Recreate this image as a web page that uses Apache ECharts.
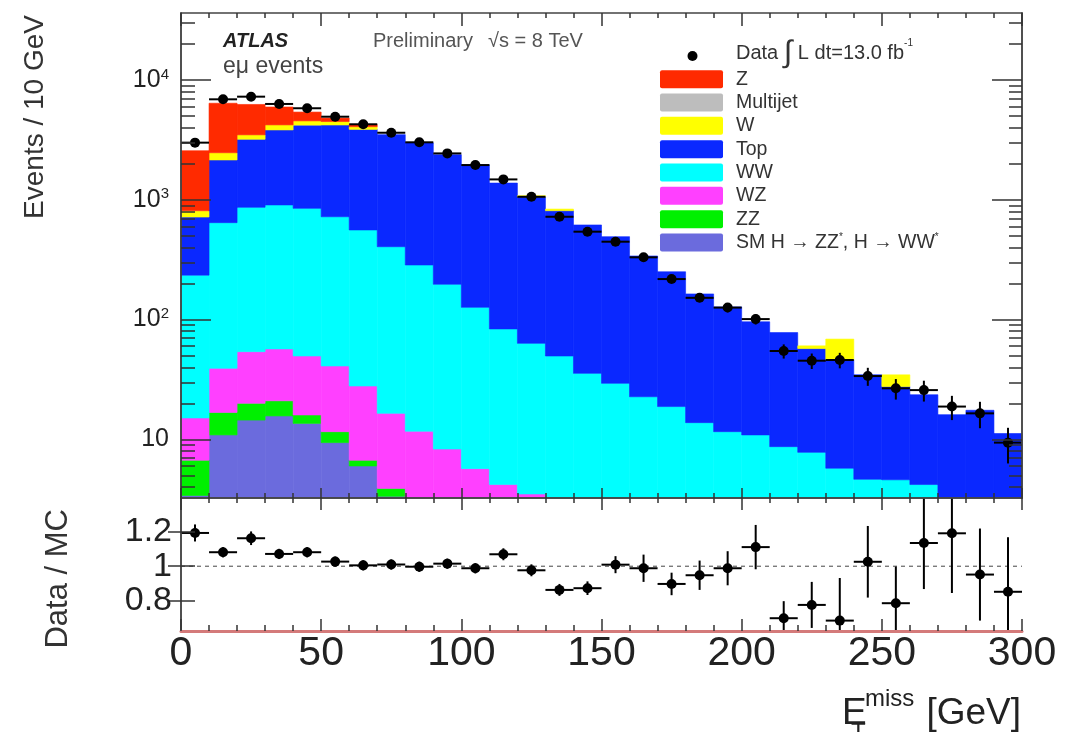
<!DOCTYPE html>
<html>
<head>
<meta charset="utf-8">
<script src="https://cdn.jsdelivr.net/npm/echarts@6/dist/echarts.min.js"></script>
<style>
html,body{margin:0;padding:0;background:#ffffff;}
#chart{width:1072px;height:732px;}
</style>
</head>
<body>
<div id="chart"></div>
<script>
// ---------- data ----------
const binEdges = [0,10,20,30,40,50,60,70,80,90,100,110,120,130,140,150,160,170,180,190,200,210,220,230,240,250,260,270,280,290,300];
const xTickValues = [0,50,100,150,200,250,300];
const yMajorTicks = [10,100,1000,10000];
const yMinorTicks = [4,5,6,7,8,9,20,30,40,50,60,70,80,90,200,300,400,500,600,700,800,900,2000,3000,4000,5000,6000,7000,8000,9000,20000,30000];
const ratioTicks = [0.8,1,1.2];

const higgs    = [3.4,10.9,14.5,15.7,13.6,9.4,6.0,3.35,1.5,1.0,0.7,0.5,0.4,0.3,0.2,0.2,0.1,0.1,0.1,0.1,0.1,0.05,0.05,0.05,0.05,0.05,0.05,0.05,0.05,0.05];
const zzVals   = [3.3,5.9,5.5,5.3,2.4,2.2,0.7,0.55,1.0,0.6,0.5,0.4,0.3,0.2,0.2,0.1,0.1,0.1,0.1,0.1,0.1,0.05,0.05,0.05,0.05,0.05,0.05,0.05,0.05,0.05];
const wzVals   = [8.4,22.4,34,35.9,33.7,29.4,21.2,12.6,9.2,6.7,4.5,3.3,2.8,2.0,1.6,1.2,0.9,0.7,0.5,0.4,0.3,0.2,0.2,0.15,0.15,0.1,0.1,0.1,0.1,0.1];
const wwVals   = [220,605,812,849,799,681,532,389.5,274,189,121,79.4,59.9,47.2,33.6,27.9,21.6,17.9,13.1,11,10.4,8.4,7.5,5.5,4.4,4.4,4.0,2.4,2.2,1.9];
const topVals  = [483,1506,2334,2924,3351,3488,3310,3094,2704,2183,1833,1296,998.6,761,581,463,317,232,150,116,85,69.2,49.5,40.4,30,23,19.4,13.5,15.1,9.1];
const wVals    = [87,310,275,380,350,280,200,60,25,12,10,3,20,26,3,2,5,1,1,0.5,0.3,0.2,3.1,22.6,0.05,7,0.05,0.05,0.05,0.05];
const mjVals   = [5,10,10,10,10,10,5,5,5,3,3,1,2,1,1,0.5,0.5,0.2,0.2,0.1,0.1,0.05,0.05,0.05,0.05,0.05,0.05,0.05,0.05,0.05];
const zVals    = [1760,3930,2765,1730,840,310,175,25,10,5,2,1,2,1,1,0.5,0.5,0.2,1,0.1,0.1,0.05,0.05,0.05,0.05,0.05,0.05,0.05,0.05,0.05];

const dataVals = [3000,6900,7260,6310,5810,4940,4270,3630,3020,2440,1950,1480,1060,722,542,447,331,218,152,126,101,54.7,45.4,46,33.8,26.7,25.8,18.8,16.5,9.4];
const dataErr  = [55,83,85,79,76,70,65,60,55,49,44,38,33,27,23,21,18,15,12,11,10,7.4,6.7,6.8,5.8,5.2,5.1,4.3,4.1,3.1];

const ratioVals = [1.195,1.082,1.164,1.072,1.082,1.027,1.005,1.01,0.997,1.015,0.988,1.07,0.976,0.861,0.871,1.009,0.988,0.896,0.947,0.988,1.112,0.695,0.773,0.681,1.026,0.783,1.136,1.193,0.951,0.85];
const ratioErr  = [0.05,0.03,0.04,0.03,0.03,0.03,0.03,0.03,0.03,0.03,0.03,0.035,0.035,0.035,0.04,0.05,0.08,0.066,0.086,0.10,0.13,0.10,0.135,0.25,0.21,0.215,0.27,0.35,0.27,0.32];
const ratioRef = 1;

const layerNames  = ['SM H', 'ZZ', 'WZ', 'WW', 'Top', 'W', 'Multijet', 'Z'];
const layerColors = ['#6b6bdd', '#00f000', '#ff40ff', '#00ffff', '#0a28ff', '#ffff00', '#bdbdbd', '#ff2a00'];
const layerValues = [higgs, zzVals, wzVals, wwVals, topVals, wVals, mjVals, zVals];

const legendLabels = ['Z', 'Multijet', 'W', 'Top', 'WW', 'WZ', 'ZZ', 'SM H \u2192 ZZ{s|*}, H \u2192 WW{s|*}'];
const legendColors = ['#ff2a00', '#bdbdbd', '#ffff00', '#0a28ff', '#00ffff', '#ff40ff', '#00f000', '#6b6bdd'];

// ---------- layout ----------
const X_MIN = 0, X_MAX = 300;
const Y_MIN = 3.243, Y_MAX = 36250;
const R_MIN = 0.62, R_MAX = 1.4;
const BASE = 0.001;
const FONT = '"Liberation Sans", Arial, Helvetica, sans-serif';
const AX = '#333';

const chart = echarts.init(document.getElementById('chart'), null, {renderer: 'canvas'});

function stackRender(color) {
  return function (params, api) {
    const pA = api.coord([api.value(0), api.value(3)]);
    const pB = api.coord([api.value(1), api.value(2)]);
    const cs = params.coordSys;
    const shape = echarts.graphic.clipRectByRect(
      {x: pA[0], y: pA[1], width: pB[0] - pA[0], height: pB[1] - pA[1]},
      {x: cs.x, y: cs.y, width: cs.width, height: cs.height});
    if (!shape || shape.height < 0.9) return null;
    return {type: 'rect', shape: shape, style: {fill: color, stroke: color, lineWidth: 0.6}};
  };
}

function pointRender(params, api) {
  const x0 = api.value(0), x1 = api.value(1), y = api.value(2), e = api.value(3);
  const xc = (x0 + x1) / 2;
  const pL = api.coord([x0, y]);
  const pR = api.coord([x1, y]);
  const pT = api.coord([xc, y + e]);
  const pB = api.coord([xc, Math.max(y - e, BASE)]);
  const cs = params.coordSys;
  const clip = (v, a, b) => Math.min(Math.max(v, a), b);
  const top = clip(pT[1], cs.y, cs.y + cs.height);
  const bot = clip(pB[1], cs.y, cs.y + cs.height);
  const children = [
    {type: 'line', shape: {x1: pL[0], y1: pL[1], x2: pR[0], y2: pR[1]}, style: {stroke: '#000', lineWidth: 2}},
    {type: 'line', shape: {x1: pT[0], y1: top, x2: pB[0], y2: bot}, style: {stroke: '#000', lineWidth: 2}}
  ];
  if (pL[1] >= cs.y && pL[1] <= cs.y + cs.height) {
    children.push({type: 'circle', shape: {cx: (pL[0] + pR[0]) / 2, cy: pL[1], r: 5}, style: {fill: '#000'}});
  }
  return {type: 'group', children: children};
}

const series = [];
let cum = binEdges.slice(0, -1).map(() => BASE);
layerValues.forEach((vals, k) => {
  const d = vals.map((v, i) => [binEdges[i], binEdges[i + 1], cum[i], cum[i] + v]);
  cum = cum.map((c, i) => c + vals[i]);
  series.push({
    type: 'custom', name: layerNames[k], xAxisIndex: 0, yAxisIndex: 0,
    renderItem: stackRender(layerColors[k]), data: d, silent: true, z: 2,
    encode: {x: [0, 1], y: [2, 3]}
  });
});

series.push({
  type: 'custom', name: 'Data', xAxisIndex: 0, yAxisIndex: 0, z: 5, silent: true,
  renderItem: pointRender,
  data: dataVals.map((v, i) => [binEdges[i], binEdges[i + 1], v, dataErr[i]]),
  encode: {x: [0, 1], y: 2}
});

series.push({
  type: 'line', xAxisIndex: 2, yAxisIndex: 4, silent: true, symbol: 'none', z: 3,
  data: [[X_MIN, ratioRef], [X_MAX, ratioRef]],
  lineStyle: {color: '#444', width: 1, type: [4, 4]}
});

series.push({
  type: 'custom', name: 'Ratio', xAxisIndex: 2, yAxisIndex: 4, z: 5, silent: true,
  renderItem: pointRender,
  data: ratioVals.map((v, i) => [binEdges[i], binEdges[i + 1], v, ratioErr[i]]),
  encode: {x: [0, 1], y: 2}
});

function xAxisDef(grid, pos, tickLen, minorLen, showLabels, lineColor, lineWidth) {
  return {
    type: 'value', gridIndex: grid, position: pos, min: X_MIN, max: X_MAX, interval: 50, z: 10,
    axisLine: {show: true, onZero: false, lineStyle: {color: lineColor || '#444', width: lineWidth || 1.5}},
    axisTick: {show: true, inside: true, length: tickLen, lineStyle: {color: AX, width: 1.5}},
    minorTick: {show: true, splitNumber: 5, length: minorLen, lineStyle: {color: AX, width: 1.5}},
    splitLine: {show: false}, minorSplitLine: {show: false},
    axisLabel: showLabels ? {show: true, customValues: xTickValues, fontSize: 41, fontFamily: FONT, color: '#222', margin: 2,
      formatter: v => String(v)} : {show: false}
  };
}

function logAxisDef(pos, ticks, len, labels) {
  return {
    type: 'log', logBase: 10, gridIndex: 0, position: pos, min: Y_MIN, max: Y_MAX, z: 10,
    axisLine: {show: true, lineStyle: {color: '#444', width: 1.5}},
    axisTick: {show: true, inside: true, length: len, customValues: ticks, lineStyle: {color: AX, width: 1.5}},
    minorTick: {show: false},
    splitLine: {show: false},
    axisLabel: labels ? {
      show: true, customValues: yMajorTicks, margin: 12, fontFamily: FONT, color: '#222', fontSize: 25,
      formatter: function (v) {
        const e = Math.round(Math.log10(v));
        return e === 1 ? '{m|10}' : '{m|10}{s|' + e + '}';
      },
      rich: {
        m: {fontSize: 25, lineHeight: 26, fontFamily: FONT, color: '#222'},
        s: {fontSize: 15, lineHeight: 15, fontFamily: FONT, color: '#222', verticalAlign: 'top'}
      }
    } : {show: false}
  };
}

function ratioAxisDef(pos, len, labels) {
  return {
    type: 'value', gridIndex: 1, position: pos, min: R_MIN, max: R_MAX, z: 10,
    axisLine: {show: true, lineStyle: {color: '#444', width: 1.5}},
    axisTick: {show: true, inside: true, length: len, customValues: ratioTicks, lineStyle: {color: AX, width: 1.5}},
    splitLine: {show: false},
    axisLabel: labels ? {
      show: true, customValues: ratioTicks, margin: 9, fontSize: 34, fontFamily: FONT, color: '#222',
      formatter: v => (Math.abs(v - 1) < 1e-9 ? '1' : String(v))
    } : {show: false}
  };
}

const legendGraphics = [];
legendLabels.forEach((lab, k) => {
  const cy = 79.2 + 23.33 * k;
  legendGraphics.push({
    type: 'rect', shape: {x: 660, y: cy - 9, width: 63, height: 18, r: 2},
    style: {fill: legendColors[k]}, silent: true
  });
  legendGraphics.push({
    type: 'text', x: 736, y: cy, silent: true,
    style: {text: lab, font: '19.5px ' + FONT, fill: '#333', align: 'left', verticalAlign: 'middle',
      rich: {s: {fontSize: 10, fontFamily: FONT, fill: '#333', verticalAlign: 'top', lineHeight: 10}}}
  });
});

const option = {
  animation: false,
  backgroundColor: '#ffffff',
  grid: [
    {left: 181, top: 13, width: 841, height: 485, containLabel: false},
    {left: 181, top: 498, width: 841, height: 133, containLabel: false}
  ],
  xAxis: [
    xAxisDef(0, 'bottom', 10, 5, false),
    xAxisDef(0, 'top', 13, 5, false),
    xAxisDef(1, 'bottom', 12, 6, true, '#d47a7a', 3),
    xAxisDef(1, 'top', 12, 5, false)
  ],
  yAxis: [
    logAxisDef('left', yMajorTicks, 30, true),
    logAxisDef('left', yMinorTicks, 14, false),
    logAxisDef('right', yMajorTicks, 30, false),
    logAxisDef('right', yMinorTicks, 13, false),
    ratioAxisDef('left', 14, true),
    ratioAxisDef('right', 13, false)
  ],
  series: series,
  graphic: [
    {type: 'text', x: 223, y: 41.5, silent: true,
      style: {text: 'ATLAS', font: 'italic bold 20px ' + FONT, fill: '#222', align: 'left', verticalAlign: 'middle'}},
    {type: 'text', x: 373, y: 41.5, silent: true,
      style: {text: 'Preliminary', font: '20px ' + FONT, fill: '#555', align: 'left', verticalAlign: 'middle'}},
    {type: 'text', x: 488, y: 41.5, silent: true,
      style: {text: '\u221As = 8 TeV', font: '20px ' + FONT, fill: '#555', align: 'left', verticalAlign: 'middle'}},
    {type: 'text', x: 223, y: 67, silent: true,
      style: {text: 'e\u03BC events', font: '23px ' + FONT, fill: '#444', align: 'left', verticalAlign: 'middle'}},
    {type: 'circle', shape: {cx: 692.5, cy: 56, r: 5}, style: {fill: '#000'}, silent: true},
    {type: 'text', x: 736, y: 53, silent: true,
      style: {text: '{n|Data }{i|\u222B}{n| L dt=13.0 fb}{s|-1}', font: '20px ' + FONT, fill: '#333',
        align: 'left', verticalAlign: 'middle',
        rich: {
          n: {fontSize: 20, fontFamily: FONT, fill: '#333', lineHeight: 30, verticalAlign: 'middle'},
          i: {fontSize: 31, fontFamily: FONT, fill: '#333', lineHeight: 30, verticalAlign: 'middle'},
          s: {fontSize: 10, fontFamily: FONT, fill: '#333', lineHeight: 24, verticalAlign: 'top'}
        }}},
    ...legendGraphics,
    {type: 'text', x: 35, y: 15, rotation: Math.PI / 2, silent: true,
      style: {text: 'Events / 10 GeV', font: '28px ' + FONT, fill: '#333', align: 'right', verticalAlign: 'middle'}},
    {type: 'text', x: 58, y: 509, rotation: Math.PI / 2, silent: true,
      style: {text: 'Data / MC', font: '31px ' + FONT, fill: '#333', align: 'right', verticalAlign: 'middle'}},
    {type: 'text', x: 842, y: 714, silent: true,
      style: {text: 'E', font: '37px ' + FONT, fill: '#222', align: 'left', verticalAlign: 'middle'}},
    {type: 'text', x: 865, y: 699, silent: true,
      style: {text: 'miss', font: '24px ' + FONT, fill: '#222', align: 'left', verticalAlign: 'middle'}},
    {type: 'text', x: 851, y: 733, silent: true,
      style: {text: 'T', font: '24px ' + FONT, fill: '#222', align: 'left', verticalAlign: 'middle'}},
    {type: 'text', x: 1021, y: 714, silent: true,
      style: {text: '[GeV]', font: '37px ' + FONT, fill: '#222', align: 'right', verticalAlign: 'middle'}}
  ]
};

chart.setOption(option);
</script>
</body>
</html>
